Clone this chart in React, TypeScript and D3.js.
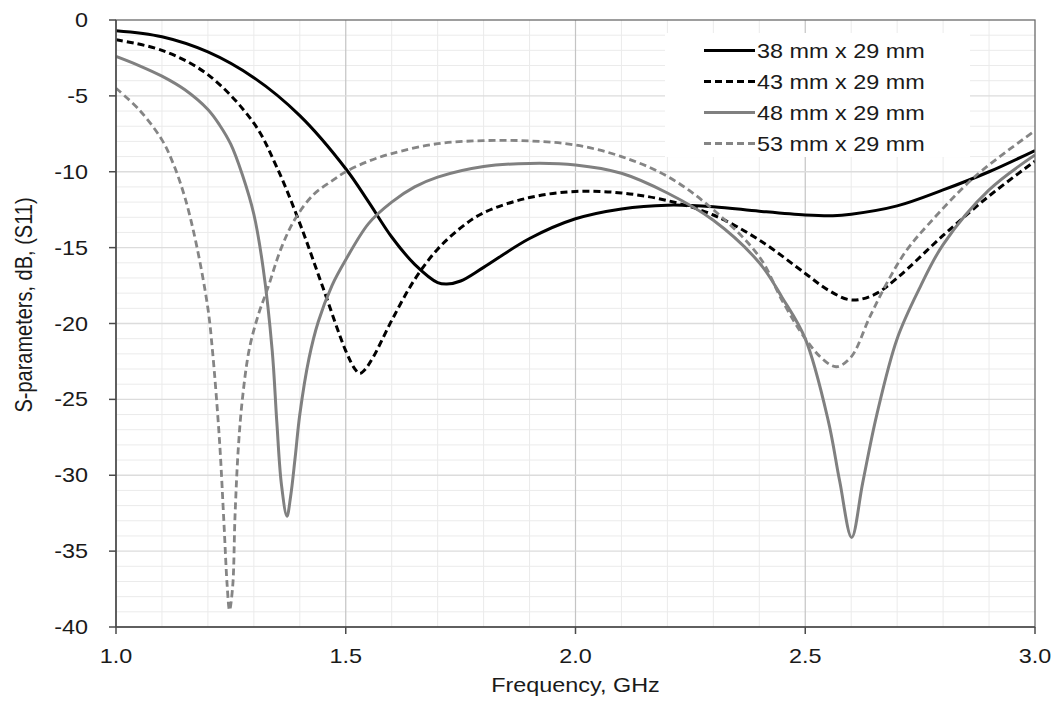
import React from 'react';
import * as d3 from 'd3';

// ---- data ----
const xTicks = [1.0, 1.5, 2.0, 2.5, 3.0];
const yTicks = [0, -5, -10, -15, -20, -25, -30, -35, -40];
const seriesNames = ['38 mm x 29 mm', '43 mm x 29 mm', '48 mm x 29 mm', '53 mm x 29 mm'];

const f38 = [1.0, 1.1, 1.2, 1.3, 1.4, 1.5, 1.55, 1.6, 1.65, 1.7, 1.72, 1.75, 1.8, 1.9, 2.0, 2.1, 2.2, 2.3, 2.4, 2.5, 2.56, 2.6, 2.7, 2.8, 2.9, 3.0];
const s38 = [-0.7, -1.1, -2.1, -3.8, -6.3, -9.8, -12.0, -14.3, -16.1, -17.3, -17.4, -17.2, -16.3, -14.4, -13.1, -12.45, -12.2, -12.3, -12.6, -12.85, -12.9, -12.8, -12.25, -11.2, -10.0, -8.6];

const f43 = [1.0, 1.1, 1.2, 1.3, 1.35, 1.4, 1.45, 1.5, 1.52, 1.53, 1.54, 1.56, 1.6, 1.65, 1.7, 1.75, 1.8, 1.9, 2.0, 2.1, 2.2, 2.3, 2.4, 2.5, 2.55, 2.6, 2.65, 2.7, 2.8, 2.9, 3.0];
const s43 = [-1.3, -2.0, -3.6, -6.8, -9.7, -13.4, -17.6, -21.8, -23.0, -23.3, -23.1, -22.2, -19.8, -17.1, -15.1, -13.7, -12.7, -11.7, -11.3, -11.4, -11.9, -12.85, -14.5, -16.7, -17.8, -18.45, -18.1, -17.0, -14.2, -11.6, -9.3];

const f48 = [1.0, 1.05, 1.1, 1.15, 1.2, 1.225, 1.25, 1.275, 1.3, 1.32, 1.34, 1.35, 1.36, 1.372, 1.38, 1.39, 1.4, 1.42, 1.44, 1.47, 1.5, 1.55, 1.6, 1.65, 1.7, 1.8, 1.9, 2.0, 2.1, 2.2, 2.3, 2.4, 2.45, 2.5, 2.55, 2.575, 2.601, 2.625, 2.655, 2.7, 2.75, 2.8, 2.9, 3.0];
const s48 = [-2.4, -3.0, -3.7, -4.6, -5.9, -6.9, -8.2, -10.2, -12.8, -16.3, -21.8, -26.5, -30.6, -32.7, -31.4, -28.8, -26.0, -22.3, -19.9, -17.5, -15.8, -13.4, -12.0, -11.0, -10.35, -9.65, -9.45, -9.55, -10.1, -11.4, -13.2, -16.0, -18.3, -21.0, -26.4, -30.4, -34.1, -30.5, -26.1, -21.0, -17.6, -14.8, -11.2, -8.9];

const f53 = [1.0, 1.05, 1.1, 1.125, 1.15, 1.175, 1.2, 1.21, 1.225, 1.235, 1.242, 1.247, 1.254, 1.259, 1.266, 1.275, 1.29, 1.31, 1.33, 1.36, 1.39, 1.43, 1.47, 1.5, 1.55, 1.6, 1.7, 1.8, 1.9, 2.0, 2.1, 2.2, 2.3, 2.4, 2.45, 2.5, 2.54, 2.568, 2.6, 2.64, 2.68, 2.72, 2.77, 2.87, 3.0];
const s53 = [-4.5, -5.9, -7.9, -9.5, -11.7, -14.8, -19.0, -21.8, -27.6, -33.2, -37.3, -38.9, -37.3, -32.7, -28.3, -25.0, -21.7, -19.4, -17.7, -15.0, -13.1, -11.5, -10.6, -10.0, -9.3, -8.8, -8.15, -7.95, -7.97, -8.24, -9.0, -10.3, -12.5, -15.6, -18.5, -21.0, -22.4, -22.85, -22.2, -19.6, -17.2, -15.2, -13.4, -10.3, -7.3];

const seriesFreqs = [f38, f43, f48, f53];
const seriesVals = [s38, s43, s48, s53];

// ---- styles ----
const seriesStyles = [
  { color: '#000000', dash: null as string | null, width: 3 },
  { color: '#000000', dash: '7,4', width: 3 },
  { color: '#808080', dash: null as string | null, width: 3 },
  { color: '#858585', dash: '7,4', width: 2.8 },
];

const W = 1054;
const H = 704;
const L = 116, R = 1035, T = 20, B = 627;
const SX = 1.17;
const FONT = 'Arial, "Liberation Sans", Helvetica, sans-serif';

export default function App() {
  const x = d3.scaleLinear().domain([1, 3]).range([L, R]);
  const y = d3.scaleLinear().domain([0, -40]).range([T, B]);

  const minorX = d3.range(11, 30).map((v) => v / 10).filter((v) => Math.round(v * 10) % 5 !== 0);
  const minorY = d3.range(-1, -40, -1).filter((v) => v % 5 !== 0);

  const line = d3
    .line<[number, number]>()
    .x((d) => x(d[0]))
    .y((d) => y(d[1]))
    .curve(d3.curveCatmullRom.alpha(0.5));

  const legendRows = [50.5, 81.5, 112.5, 143.5];

  return (
    <svg
      width={W}
      height={H}
      style={{ position: 'absolute', left: 0, top: 0, background: '#fff' }}
      fontFamily={FONT}
    >
      <defs>
        <clipPath id="plotClip">
          <rect x={L} y={T} width={R - L} height={B - T} />
        </clipPath>
      </defs>
      <rect x={0} y={0} width={W} height={H} fill="#fff" />

      {/* minor grid */}
      {minorX.map((v) => (
        <line key={'mx' + v} x1={x(v)} x2={x(v)} y1={T} y2={B} stroke="#ebebeb" strokeWidth={1} />
      ))}
      {minorY.map((v) => (
        <line key={'my' + v} x1={L} x2={R} y1={y(v)} y2={y(v)} stroke="#ebebeb" strokeWidth={1} />
      ))}
      {/* major grid */}
      {xTicks.slice(1, -1).map((v) => (
        <line key={'gx' + v} x1={x(v)} x2={x(v)} y1={T} y2={B} stroke="#c4c4c4" strokeWidth={1.2} />
      ))}
      {yTicks.slice(1, -1).map((v) => (
        <line key={'gy' + v} x1={L} x2={R} y1={y(v)} y2={y(v)} stroke="#dcdcdc" strokeWidth={1.4} />
      ))}

      {/* legend background */}
      <rect x={665} y={33} width={305} height={124} fill="#fff" />

      {/* series */}
      <g clipPath="url(#plotClip)">
        {seriesVals.map((vals, i) => {
          const pts = vals.map((v, j) => [seriesFreqs[i][j], v] as [number, number]);
          const st = seriesStyles[i];
          return (
            <path
              key={'s' + i}
              d={line(pts) || ''}
              fill="none"
              stroke={st.color}
              strokeWidth={st.width}
              strokeDasharray={st.dash || undefined}
              strokeLinejoin="round"
            />
          );
        })}
      </g>

      {/* frame */}
      <rect x={L} y={T} width={R - L} height={B - T} fill="none" stroke="#6a6a6a" strokeWidth={1.3} />
      <line x1={L} x2={L} y1={T} y2={B} stroke="#4a4a4a" strokeWidth={1.5} />
      <line x1={L} x2={R} y1={B} y2={B} stroke="#4a4a4a" strokeWidth={1.5} />

      {/* y ticks and labels */}
      {yTicks.map((v) => (
        <g key={'yt' + v}>
          <line x1={L - 7} x2={L} y1={y(v)} y2={y(v)} stroke="#4a4a4a" strokeWidth={1.5} />
          <text
            transform={`translate(88,${y(v) + 7}) scale(${SX},1)`}
            textAnchor="end"
            fontSize={20}
            fill="#1a1a1a"
          >
            {v === 0 ? '0' : String(v)}
          </text>
        </g>
      ))}

      {/* x ticks and labels */}
      {xTicks.map((v) => (
        <g key={'xt' + v}>
          <line x1={x(v)} x2={x(v)} y1={B} y2={B + 7} stroke="#4a4a4a" strokeWidth={1.5} />
          <text
            transform={`translate(${x(v)},663) scale(${SX},1)`}
            textAnchor="middle"
            fontSize={20}
            fill="#1a1a1a"
          >
            {v.toFixed(1)}
          </text>
        </g>
      ))}

      {/* axis titles */}
      <text
        transform={`translate(${(L + R) / 2},692) scale(${SX},1)`}
        textAnchor="middle"
        fontSize={20}
        fill="#1a1a1a"
      >
        Frequency, GHz
      </text>
      <text
        transform={`translate(32,305) scale(${SX},1) rotate(-90)`}
        textAnchor="middle"
        fontSize={20}
        fill="#1a1a1a"
      >
        S-parameters, dB, (S11)
      </text>

      {/* legend */}
      {seriesNames.map((name, i) => {
        const st = seriesStyles[i];
        const cy = legendRows[i];
        return (
          <g key={'lg' + i}>
            <line
              x1={704}
              x2={755}
              y1={cy}
              y2={cy}
              stroke={st.color}
              strokeWidth={st.width}
              strokeDasharray={st.dash || undefined}
            />
            <text transform={`translate(757,${cy + 7}) scale(${SX},1)`} fontSize={20} fill="#1a1a1a">
              {name}
            </text>
          </g>
        );
      })}
    </svg>
  );
}
